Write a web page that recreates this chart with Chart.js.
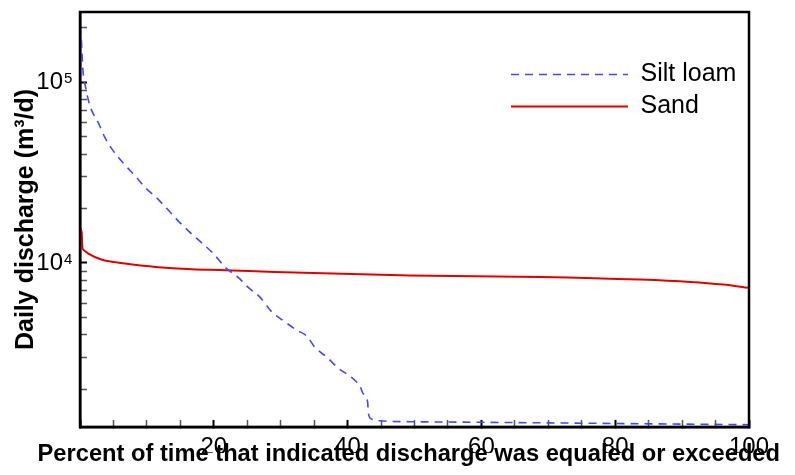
<!DOCTYPE html>
<html lang="en">
<head>
<meta charset="UTF-8">
<title>Flow duration curves</title>
<script src="https://cdn.jsdelivr.net/npm/chart.js@4.4.1/dist/chart.umd.min.js"></script>
<style>
  body { margin: 0; background: #fff; }
</style>
</head>
<body>
<canvas id="chart" width="795" height="475"></canvas>
<script>
// percent of time exceeded (%) and daily discharge (m3/d)
const siltPct = [0, 0.2, 0.3, 0.45, 0.85, 1.5, 2.7, 3.7, 5.0, 6.6, 8.2, 9.7, 11.5, 13.2, 14.6,
  16.4, 18.2, 19.9, 21.7, 23.6, 25.1, 26.9, 28.7, 30.3, 32.4, 33.9, 35.1, 36.9, 38.6, 40.7,
  41.9, 42.3, 43.0, 43.1, 43.6, 44.8, 49.3, 60, 70, 80, 90, 100];
const siltQ = [205000, 173000, 145000, 115000, 93000, 73600, 60000, 49600, 41500, 35200, 30400,
  26200, 22800, 19600, 17200, 14800, 12900, 11300, 9470, 8340, 7350, 6470, 5350, 4820, 4250,
  3940, 3420, 3010, 2620, 2310, 2060, 1900, 1700, 1480, 1370, 1340, 1325, 1315, 1305, 1295,
  1285, 1275];

const sandPct = [0, 0.25, 0.35, 0.6, 1.25, 3.2, 6.7, 11.7, 16.7, 21.7, 29.1, 49.3, 68.8, 83.7,
  91.2, 96.1, 100];
const sandQ = [15500, 14800, 12200, 11750, 11270, 10440, 9920, 9470, 9230, 9120, 8900, 8520,
  8365, 8090, 7850, 7590, 7280];

const xTickLabels = [20, 40, 60, 80, 100];
const yTickValues = [2000, 3000, 4000, 5000, 6000, 7000, 8000, 9000,
  10000, 20000, 30000, 40000, 50000, 60000, 70000, 80000, 90000, 100000, 200000];
const yDecades = [4, 5];

const tickLen = 7;

Chart.defaults.font.family = '"Liberation Sans", Arial, Helvetica, sans-serif';
Chart.defaults.color = '#000';

// box around the plot, exponents on the 10^n labels, legend moved into the plot
const framePlugin = {
  id: 'frame',
  afterLayout(chart) {
    chart.legend.left = 504;
    chart.legend.top = 55;
  },
  afterDraw(chart) {
    const {ctx, chartArea: a, scales} = chart;
    ctx.save();
    ctx.strokeStyle = '#000';
    ctx.lineWidth = 2.5;
    ctx.strokeRect(a.left, a.top, a.right - a.left, a.bottom - a.top);
    ctx.fillStyle = '#000';
    ctx.font = '15px "Liberation Sans", Arial, sans-serif';
    ctx.textAlign = 'left';
    ctx.textBaseline = 'alphabetic';
    yDecades.forEach(e => {
      const y = scales.y.getPixelForValue(Math.pow(10, e));
      ctx.fillText(String(e), scales.y.right - 16, y + 1);
    });
    ctx.restore();
  }
};

const ctx = document.getElementById('chart').getContext('2d');
new Chart(ctx, {
  type: 'line',
  data: {
    datasets: [{
      label: 'Silt loam',
      data: siltPct.map((p, i) => ({x: p, y: siltQ[i]})),
      borderColor: '#4646ff',
      borderWidth: 1.6,
      borderDash: [8, 6],
      pointRadius: 0,
      cubicInterpolationMode: 'monotone',
      fill: false
    }, {
      label: 'Sand',
      data: sandPct.map((p, i) => ({x: p, y: sandQ[i]})),
      borderColor: '#e00000',
      borderWidth: 2,
      pointRadius: 0,
      cubicInterpolationMode: 'monotone',
      fill: false
    }]
  },
  options: {
    responsive: false,
    animation: false,
    devicePixelRatio: 1,
    layout: { padding: { top: 12, right: 15, bottom: 8.4, left: 0 } },
    scales: {
      x: {
        type: 'linear',
        min: 0,
        max: 100,
        afterFit(s) { s.height = 26; s.paddingLeft = 0; s.paddingRight = 0; },
        ticks: {
          stepSize: 5,
          autoSkip: false,
          maxRotation: 0,
          padding: 13,
          font: { size: 24 },
          callback: v => xTickLabels.includes(v) ? String(v) : ''
        },
        grid: {
          drawOnChartArea: false,
          tickLength: -tickLen,
          tickWidth: c => c.tick && c.tick.value % 20 === 0 ? 2 : 1.5,
          tickColor: c => c.tick && c.tick.value % 20 === 0 ? '#000' : '#555'
        },
        border: { display: true, color: '#000', width: 2.5 }
      },
      y: {
        type: 'logarithmic',
        min: 1240,
        max: 244000,
        afterBuildTicks(s) { s.ticks = yTickValues.map(v => ({value: v})); },
        afterFit(s) { s.width = 80; s.paddingTop = 0; s.paddingBottom = 0; },
        ticks: {
          autoSkip: false,
          padding: 24,
          font: { size: 24 },
          callback: v => (v === 10000 || v === 100000) ? '10' : ''
        },
        grid: {
          drawOnChartArea: false,
          tickLength: -tickLen,
          tickWidth: c => c.tick && (c.tick.value === 10000 || c.tick.value === 100000) ? 2 : 1.5,
          tickColor: c => c.tick && (c.tick.value === 10000 || c.tick.value === 100000) ? '#000' : '#555'
        },
        border: { display: true, color: '#000', width: 2.5 },
        title: {
          display: true,
          text: 'Daily discharge (m³/d)',
          font: { size: 25, weight: 'bold' },
          padding: { top: 11, bottom: 0 }
        }
      },
      yRight: {
        type: 'linear',
        position: 'right',
        afterFit(s) { s.width = 31; s.paddingTop = 0; s.paddingBottom = 0; },
        grid: { display: false },
        ticks: { display: false },
        border: { display: false }
      }
    },
    plugins: {
      legend: {
        position: 'chartArea',
        align: 'start',
        labels: {
          usePointStyle: true,
          pointStyle: 'line',
          pointStyleWidth: 117,
          padding: 7,
          font: { size: 25 },
          // take dash and width from the line, not from the points
          generateLabels(chart) {
            const items = Chart.defaults.plugins.legend.labels.generateLabels(chart);
            items.forEach(it => {
              const ds = chart.data.datasets[it.datasetIndex];
              it.lineDash = ds.borderDash || [];
              it.lineWidth = ds.borderWidth;
              it.strokeStyle = ds.borderColor;
            });
            return items;
          }
        }
      },
      title: {
        display: true,
        text: 'Percent of time that indicated discharge was equaled or exceeded',
        position: 'bottom',
        align: 'end',
        font: { size: 23.7, weight: 'bold', lineHeight: 1 },
        padding: { top: -10, bottom: 0 }
      },
      tooltip: { enabled: false }
    }
  },
  plugins: [framePlugin]
});
</script>
</body>
</html>
